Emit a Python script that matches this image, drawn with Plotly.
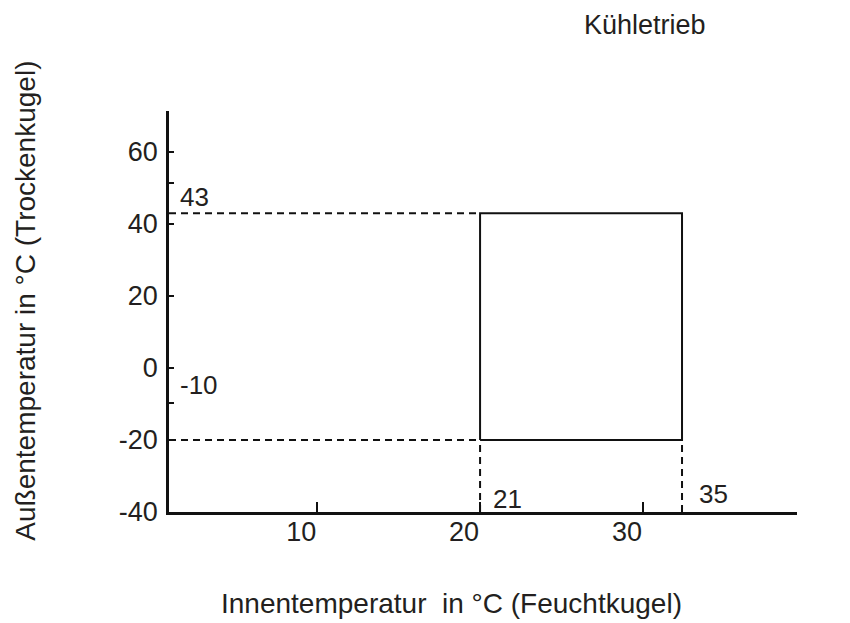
import plotly.graph_objects as go

# --- data ---
x_ticks = [10, 20, 30]
y_ticks = [-40, -20, 0, 20, 40, 60]
x_tick_text = ["10", "20", "30"]
y_tick_text = ["-40", "-20", "0", "20", "40", "60"]
y_marks = [51.3, -9.7]            # small extra marks on the y axis
x_range = [0.9, 39.46]
y_range = [-40, 71.4]

rect_x = [20.0, 32.4]             # operating window, inner temperature (as drawn)
rect_y = [-20, 43]                # operating window, outer temperature

value_labels = ["43", "-10", "21", "35"]
value_label_x = [1.48, 1.48, 20.67, 33.34]
value_label_y = [47.5, -4.7, -36.3, -35.0]

title_text = "Kühletrieb"
x_title = "Innentemperatur  in °C (Feuchtkugel)"
y_title = "Außentemperatur in °C (Trockenkugel)"

FONT = "Liberation Sans, Arial, sans-serif"
TXT = "#231f20"
LINE = "#111111"

fig = go.Figure()

x0, x1 = rect_x
y0, y1 = rect_y
xmin = x_range[0]
ymin = y_range[0]

# solid rectangle
fig.add_trace(go.Scatter(x=[x0, x1, x1, x0, x0], y=[y0, y0, y1, y1, y0],
                         mode="lines", line=dict(color=LINE, width=2),
                         hoverinfo="skip", showlegend=False))
# dashed guide lines
dash = "7px,5px"
for xs, ys in [([xmin, x0], [y1, y1]), ([xmin, x0], [y0, y0]),
               ([x0, x0], [ymin, y0]), ([x1, x1], [ymin, y0])]:
    fig.add_trace(go.Scatter(x=xs, y=ys, mode="lines",
                             line=dict(color=LINE, width=2, dash=dash),
                             hoverinfo="skip", showlegend=False))

annotations = []
for t, ax, ay in zip(value_labels, value_label_x, value_label_y):
    annotations.append(dict(x=ax, y=ay, xref="x", yref="y", text=t, showarrow=False,
                            xanchor="left", yanchor="middle",
                            font=dict(family=FONT, size=26, color=TXT)))
annotations.append(dict(x=0.758, y=1.2145, xref="paper", yref="paper", text=title_text,
                        showarrow=False, xanchor="center", yanchor="middle",
                        font=dict(family=FONT, size=27, color=TXT)))
annotations.append(dict(x=0.45, y=-0.227, xref="paper", yref="paper", text=x_title,
                        showarrow=False, xanchor="center", yanchor="middle",
                        font=dict(family=FONT, size=28, color=TXT)))
annotations.append(dict(x=-0.2277, y=0.527, xref="paper", yref="paper", text=y_title,
                        showarrow=False, xanchor="center", yanchor="middle", textangle=-90,
                        font=dict(family=FONT, size=28, color=TXT)))

fig.update_layout(
    width=850, height=623,
    margin=dict(l=161, r=61, t=103, b=119),
    paper_bgcolor="white", plot_bgcolor="white",
    showlegend=False,
    annotations=annotations,
    xaxis=dict(range=x_range, tickmode="array", tickvals=x_ticks, ticktext=x_tick_text,
               ticks="inside", ticklen=10, tickwidth=2, tickcolor=LINE,
               showline=True, linecolor=LINE, linewidth=3,
               showgrid=False, zeroline=False, ticklabelshift=-16,
               ticklabelstandoff=-6,
               tickfont=dict(family=FONT, size=27, color=TXT)),
    yaxis=dict(range=y_range, tickmode="array", tickvals=y_ticks, ticktext=y_tick_text,
               ticks="inside", ticklen=5, tickwidth=2, tickcolor=LINE,
               showline=True, linecolor=LINE, linewidth=2.5,
               showgrid=False, zeroline=False, ticklabelstandoff=3,
               minor=dict(tickmode="array", tickvals=y_marks, ticks="inside",
                          ticklen=5, tickwidth=2, tickcolor=LINE),
               tickfont=dict(family=FONT, size=27, color=TXT)),
)

fig.write_html("out.html")
